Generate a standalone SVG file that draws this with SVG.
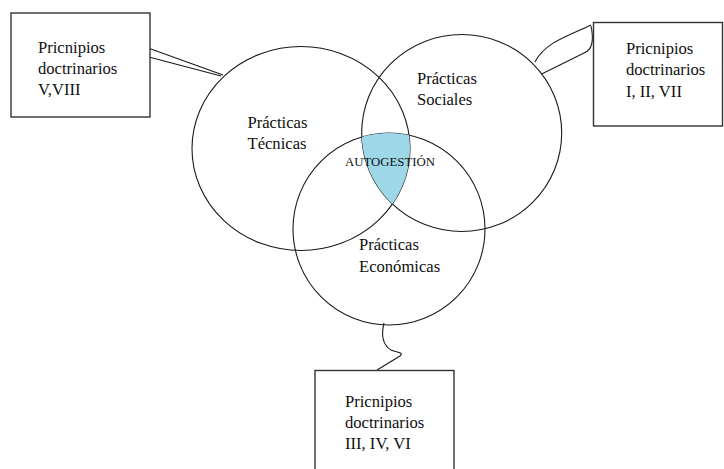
<svg xmlns="http://www.w3.org/2000/svg" width="724" height="469" viewBox="0 0 724 469">
<style>
.c{fill:none;stroke:#1a1a1a;stroke-width:1.1}
.b{fill:#fff;stroke:#333;stroke-width:1.4}
.l{fill:none;stroke:#1a1a1a;stroke-width:1.1}
.t{font-family:'Liberation Serif','Times New Roman','DejaVu Serif',serif;font-size:16.6px;fill:#111}
.s{font-size:12.5px}
</style>
<defs>
<clipPath id="c1"><ellipse cx="301" cy="148.5" rx="109" ry="102"/></clipPath>
<clipPath id="c2"><ellipse cx="461.7" cy="133" rx="100" ry="98.5"/></clipPath>
</defs>
<rect width="724" height="469" fill="#fff"/>
<g id="connectors">
<path class="l" d="M144,46.5 L223,75 M147,56.5 L221,76"/>
<path class="l" d="M591,25 C570,35 545,42 535,62 M591,26 C594,40 592,50 584,53 L541.7,74"/>
<path class="l" d="M384,323 C381,335 383,345 391,350 C398,353 404,352 400,356 L377,370"/>
</g>
<g id="tecnicas"><ellipse class="c" cx="301" cy="148.5" rx="109" ry="102"/></g>
<g id="sociales"><ellipse class="c" cx="461.7" cy="133" rx="100" ry="98.5"/></g>
<g id="economicas"><circle class="c" cx="389" cy="229" r="96"/></g>
<g id="autogestion">
<g clip-path="url(#c1)"><g clip-path="url(#c2)"><circle cx="389" cy="229" r="96" fill="#9dd7e8"/></g></g>
</g>
<g class="t" font-family="Liberation Serif, serif">
<text x="247.5" y="127.5">Prácticas</text><text x="247.5" y="149">Técnicas</text>
<text x="417" y="83.5">Prácticas</text><text x="417" y="105">Sociales</text>
<text x="359" y="250">Prácticas</text><text x="359" y="271.5">Económicas</text>
<text class="s" x="345" y="165.5" textLength="90" lengthAdjust="spacingAndGlyphs">AUTOGESTIÓN</text>
</g>
<g id="box1"><rect class="b" x="11" y="13" width="139" height="104"/><text class="t" x="38" y="53">Pricnipios</text><text class="t" x="38" y="74">doctrinarios</text><text class="t" x="38" y="94.5">V,VIII</text></g>
<g id="box2"><rect class="b" x="593.5" y="22.5" width="129" height="103.5"/><text class="t" x="626" y="54">Pricnipios</text><text class="t" x="626" y="75">doctrinarios</text><text class="t" x="626" y="96.5">I, II, VII</text></g>
<g id="box3"><rect class="b" x="315" y="370.5" width="139" height="110"/><text class="t" x="345" y="406.5">Pricnipios</text><text class="t" x="345" y="427.5">doctrinarios</text><text class="t" x="345" y="448.5">III, IV, VI</text></g>
</svg>
